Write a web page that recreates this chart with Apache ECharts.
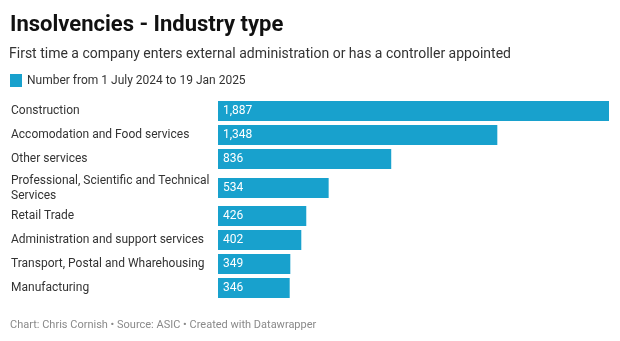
<!DOCTYPE html>
<html>
<head>
<meta charset="utf-8">
<script src="https://cdn.jsdelivr.net/npm/echarts@6/dist/echarts.min.js"></script>
<style>
html,body{margin:0;padding:0;background:#fff;}
#c{width:620px;height:341px;}
</style>
</head>
<body>
<div id="c"></div>
<script>
const categories = [
  "Construction",
  "Accomodation and Food services",
  "Other services",
  "Professional, Scientific and Technical\nServices",
  "Retail Trade",
  "Administration and support services",
  "Transport, Postal and Wharehousing",
  "Manufacturing"
];
const values = [1887, 1348, 836, 534, 426, 402, 349, 346];
const seriesName = "Number from 1 July 2024 to 19 Jan 2025";
const titleText = "Insolvencies - Industry type";
const subtitleText = "First time a company enters external administration or has a controller appointed";
const footerText = "Chart: Chris Cornish \u2022 Source: ASIC \u2022 Created with Datawrapper";

// row groups (layout only): rows 0-2, row 3 (two-line label), rows 4-7
const groups = [[0, 3], [3, 4], [4, 8]];
const gridTops = [99, 176, 204];
const rowH = [24, 24, 24];
const xMax = Math.max(...values);
const font = "Roboto, 'Noto Sans', sans-serif";
const barColor = "#18a1cd";

const grids = [], xAxes = [], yAxes = [], series = [];
groups.forEach((g, i) => {
  const n = g[1] - g[0];
  grids.push({ left: 218, right: 11, top: gridTops[i], height: rowH[i] * n, containLabel: false });
  xAxes.push({ type: 'value', gridIndex: i, min: 0, max: xMax, show: false });
  yAxes.push({
    type: 'category', gridIndex: i, inverse: true,
    data: categories.slice(g[0], g[1]),
    axisLine: { show: false }, axisTick: { show: false }, splitLine: { show: false },
    axisLabel: { align: 'left', margin: 207, color: '#333', fontSize: 12, fontFamily: font, lineHeight: 15, padding: [4, 0, 0, 0] }
  });
  series.push({
    type: 'bar', name: seriesName, xAxisIndex: i, yAxisIndex: i,
    data: values.slice(g[0], g[1]),
    barWidth: 20,
    itemStyle: { color: barColor },
    label: {
      show: true, position: 'insideLeft', distance: 5, color: '#fff', fontSize: 12, fontFamily: font,
      padding: [4, 0, 0, 0],
      formatter: p => p.value.toLocaleString('en-US')
    },
    silent: true,
    animation: false
  });
});

const chart = echarts.init(document.getElementById('c'), null, { renderer: 'canvas' });
chart.setOption({
  backgroundColor: '#fff',
  animation: false,
  title: [
    { text: titleText, left: 10, top: 14, padding: 0, textStyle: { fontFamily: font, fontSize: 22, fontWeight: 'bold', color: '#111' } },
    { text: subtitleText, left: 9, top: 47, padding: 0, textStyle: { fontFamily: font, fontSize: 14, fontWeight: 'normal', color: '#333' } },
    { text: footerText, left: 10, top: 320, padding: 0, textStyle: { fontFamily: font, fontSize: 11, fontWeight: 'normal', color: '#8a8a8a' } }
  ],
  legend: {
    left: 10, top: 74, itemWidth: 12, itemHeight: 13, itemGap: 4, icon: 'rect', padding: 0,
    selectedMode: false,
    data: [seriesName],
    textStyle: { fontFamily: font, fontSize: 12, color: '#333' }
  },
  grid: grids,
  xAxis: xAxes,
  yAxis: yAxes,
  series: series
});
</script>
</body>
</html>
